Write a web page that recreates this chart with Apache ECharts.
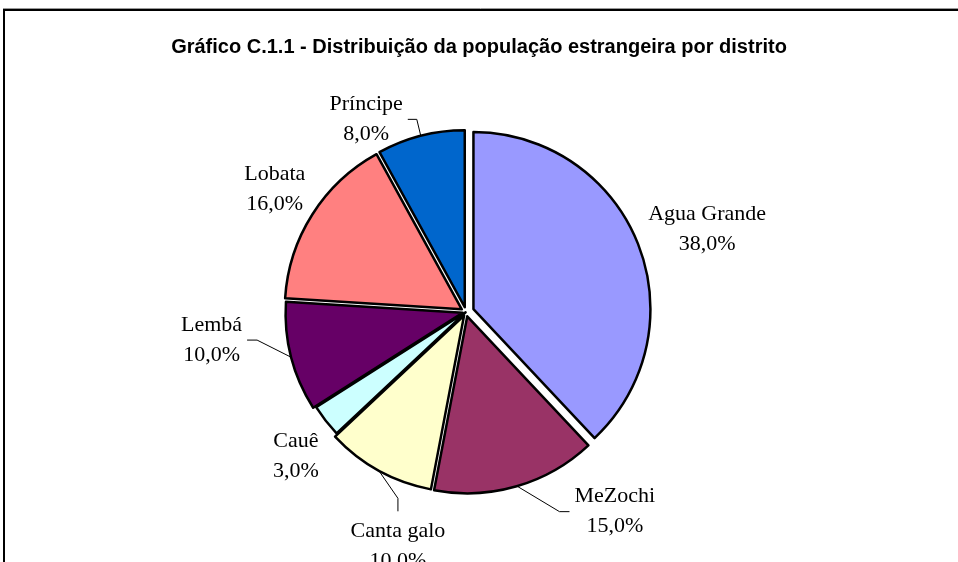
<!DOCTYPE html>
<html><head><meta charset="utf-8">
<script src="https://cdn.jsdelivr.net/npm/echarts@6/dist/echarts.min.js"></script>
<style>html,body{margin:0;padding:0;background:#fff}#c{width:958px;height:562px}</style>
</head><body><div id="c"></div>
<script>
const categories = ['Agua Grande', 'MeZochi', 'Canta galo', 'Cauê', 'Lembá', 'Lobata', 'Príncipe'];
const values = [38, 15, 10, 3, 10, 16, 8];
const colors = ['#9999FF', '#993366', '#FFFFCC', '#CCFFFF', '#660066', '#FF8080', '#0066CC'];
const explode = [8, 4.5, 4, 0.5, 3.5, 5, 5];
const labelRadius = [255, 249, 244, 223, 256, 227, 217];
const labelAngleShift = [-2.6, 20.5, 12.6, 2.5, -8.1, -0.2, 13];
const showLeader = [false, true, true, false, true, false, true];
const leaderTail = [10, 10, 13, 10, 10, 10, 9];

const center = [466, 312];
const R = 177;
const total = values.reduce((a, b) => a + b, 0);
const fmtPct = v => (v / total * 100).toFixed(1).replace('.', ',') + '%';
const midAngles = [];
let acc = 0;
values.forEach(v => { midAngles.push(90 - (acc + v / 2) / total * 360); acc += v; });

const chart = echarts.init(document.getElementById('c'), null, { renderer: 'canvas' });
const series = [];
categories.forEach((name, k) => {
  series.push({
    type: 'pie', center: center, radius: R, startAngle: 90, clockwise: true,
    selectedMode: 'single', selectedOffset: explode[k],
    animation: false, silent: true, avoidLabelOverlap: false,
    label: { show: false }, labelLine: { show: false },
    emphasis: { disabled: true },
    select: { itemStyle: { color: colors[k], borderColor: '#000', borderWidth: 2.5 } },
    data: categories.map((n, i) => ({
      name: n, value: values[i], selected: i === k,
      itemStyle: i === k ? { color: colors[i], borderColor: '#000', borderWidth: 2.5 }
                         : { color: 'rgba(0,0,0,0)', borderWidth: 0 }
    }))
  });
});
series.push({
  type: 'pie', center: center, radius: R + 4, startAngle: 90, clockwise: true,
  animation: false, silent: true, avoidLabelOverlap: false,
  itemStyle: { color: 'rgba(0,0,0,0)', borderWidth: 0 },
  emphasis: { disabled: true },
  label: {
    show: true, position: 'outside',
    formatter: p => p.name + '\n' + fmtPct(p.value),
    fontFamily: '"Liberation Serif", "Times New Roman", serif',
    fontSize: 22, lineHeight: 30, color: '#000', padding: [5, 5, 5, 5]
  },
  labelLine: { show: true, length: 10, length2: 10, lineStyle: { color: '#000', width: 1 } },
  data: categories.map((n, i) => ({
    name: n, value: values[i],
    labelLine: { show: showLeader[i], length2: leaderTail[i] }
  })),
  labelLayout: function (params) {
    const i = params.dataIndex;
    const a = (midAngles[i] + labelAngleShift[i]) * Math.PI / 180;
    return {
      x: center[0] + labelRadius[i] * Math.cos(a),
      y: center[1] - labelRadius[i] * Math.sin(a),
      align: 'center', verticalAlign: 'middle'
    };
  }
});

chart.setOption({
  animation: false,
  backgroundColor: '#fff',
  title: {
    text: 'Gráfico C.1.1 - Distribuição da população estrangeira por distrito',
    left: 'center', top: 32,
    textStyle: { fontFamily: '"Liberation Sans", Arial, sans-serif', fontWeight: 'bold', fontSize: 20, color: '#000' }
  },
  graphic: [
    { type: 'line', silent: true, shape: { x1: 3, y1: 8.5, x2: 958, y2: 8.5 }, style: { stroke: '#999', lineWidth: 1 } },
    { type: 'rect', silent: true, shape: { x: 4, y: 10, width: 1000, height: 700 }, style: { fill: 'none', stroke: '#000', lineWidth: 2 } }
  ],
  series: series
});
</script></body></html>
